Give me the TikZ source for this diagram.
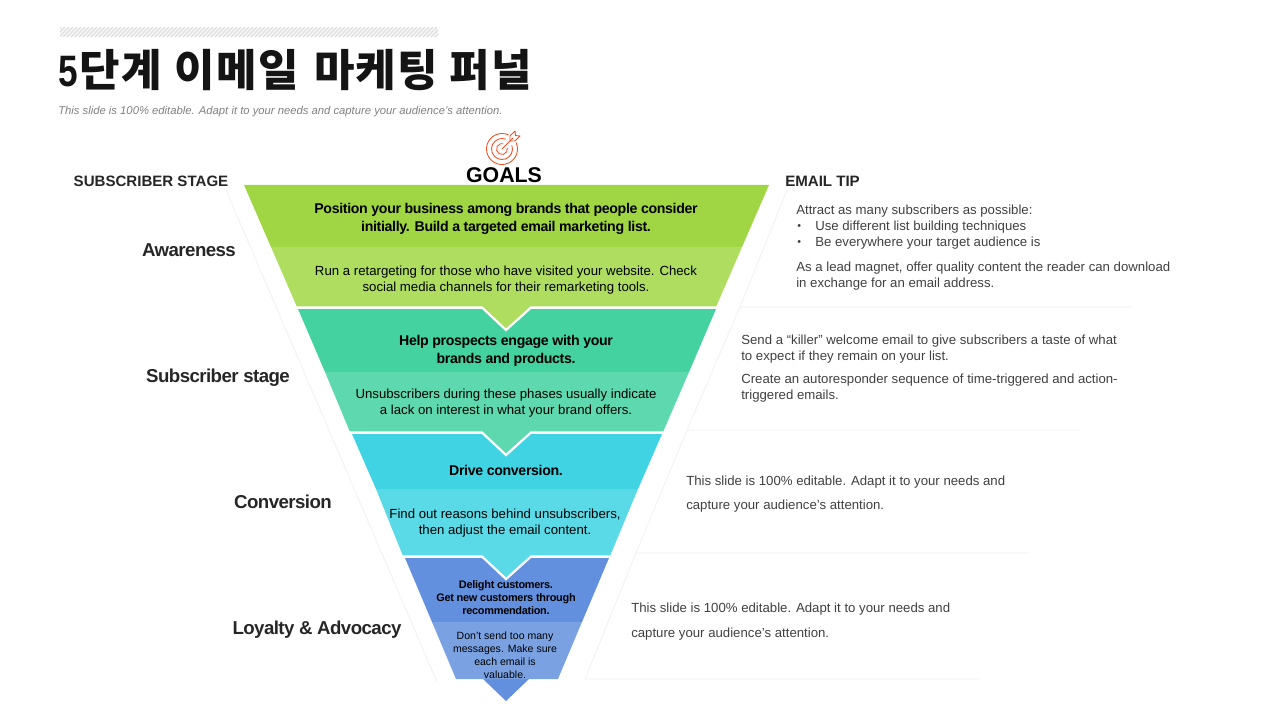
\documentclass[tikz,border=0pt]{standalone}
\usepackage{fontspec}
\setmainfont{Liberation Sans}
\newfontfamily\krfont{Noto Sans CJK KR}
\definecolor{greendark}{HTML}{A0D643}
\definecolor{greenlight}{HTML}{AEDD5F}
\definecolor{tealdark}{HTML}{44D2A0}
\definecolor{teallight}{HTML}{5ED8AE}
\definecolor{cyandark}{HTML}{3FD3E3}
\definecolor{cyanlight}{HTML}{5ADAE7}
\definecolor{bluedark}{HTML}{6390DE}
\definecolor{bluelight}{HTML}{7AA2E3}
\definecolor{targetred}{HTML}{F04E23}
\definecolor{guide}{HTML}{EFEFEF}
\tikzset{
    headbold/.style={align=center,inner sep=0pt,font=\fontsize{10.6}{13.5}\selectfont\bfseries\addfontfeatures{LetterSpace=-2.3},text=black},
    headtext/.style={align=center,inner sep=0pt,font=\fontsize{9.9}{12}\selectfont,text=black},
    smallbold/.style={align=center,inner sep=0pt,font=\fontsize{8.2}{9.8}\selectfont\bfseries\addfontfeatures{LetterSpace=-2.5},text=black},
    smalltext/.style={align=center,inner sep=0pt,font=\fontsize{7.9}{9.8}\selectfont,text=black},
    tipnote/.style={anchor=west,inner sep=0pt,font=\fontsize{9.9}{12}\selectfont,text=black!75},
    stagelabel/.style={inner sep=0pt,font=\fontsize{14}{16}\selectfont\bfseries\addfontfeatures{LetterSpace=-3},text=black!85},
    columnhead/.style={inner sep=0pt,font=\fontsize{11.3}{13}\selectfont\bfseries,text=black!85},
    whitecut/.style={draw=white,line width=1.7pt},
    guideline/.style={draw=guide,line width=0.5pt},
    targetline/.style={draw=targetred,line width=0.65pt}
}
\begin{document}
\begin{tikzpicture}[x=0.75pt,y=-0.75pt]
    \useasboundingbox (0,0) rectangle (1280,720);
    % hatched bar
    \begin{scope}
        \clip (60,28) rectangle (438,37);
        \foreach \i in {0,4,...,400} \draw[black!12,line width=1.2pt] (50+\i,38) -- (61+\i,27);
    \end{scope}
    \node[anchor=west,inner sep=0pt,font=\fontsize{33}{36}\krfont\bfseries\addfontfeatures{LetterSpace=3},text=black!92] (title) at (58,70) {{\fontspec{Liberation Sans Bold}\scalebox{.8}[1]{5}}\hspace{1.5pt}단계 \hspace{0.8pt}이메일 \hspace{3pt}마케팅 \hspace{0.3pt}퍼널};
    \node[anchor=west,inner sep=0pt,font=\fontsize{8.45}{10}\selectfont\itshape,text=black!50] (subtitle) at (58,111.5) {This slide is 100\%  editable.  Adapt it to your needs and capture your audience's attention.};
    % guide lines
    \draw[guideline] (226,190) -- (437,682);
    \draw[guideline] (787,190) -- (740,307) -- (1132,307);
    \draw[guideline] (740,307) -- (687,430) -- (1080,430);
    \draw[guideline] (687,430) -- (636,553) -- (1029,553);
    \draw[guideline] (636,553) -- (585,679) -- (979,679);
    % funnel
    \fill[greendark] (244,185) -- (769,185) -- (742,247) -- (271,247) -- cycle;
    \fill[tealdark] (298,309) -- (716,309) -- (689,372) -- (325,372) -- cycle;
    \fill[cyandark] (352,434) -- (662,434) -- (638,489) -- (376,489) -- cycle;
    \fill[bluedark] (405,558) -- (609,558) -- (582,622) -- (432,622) -- cycle;
    \fill[bluedark] (483,679) -- (529,679) -- (506,701) -- cycle;
    \fill[bluelight] (432,622) -- (582,622) -- (558,679) -- (456,679) -- cycle;
    \fill[cyanlight] (376,489) -- (638,489) -- (610,556) -- (531,556) -- (506,579) -- (482,556) -- (403,556) -- cycle;
    \draw[whitecut] (395,556.5) -- (482,556.5) -- (506,579) -- (531,556.5) -- (620,556.5);
    \fill[teallight] (325,372) -- (689,372) -- (663,432) -- (531,432) -- (506,455) -- (482,432) -- (350,432) -- cycle;
    \draw[whitecut] (340,432.5) -- (482,432.5) -- (506,455) -- (531,432.5) -- (670,432.5);
    \fill[greenlight] (271,247) -- (742,247) -- (716,307) -- (531,307) -- (506,330) -- (482,307) -- (297,307) -- cycle;
    \draw[whitecut] (290,307.5) -- (482,307.5) -- (506,330) -- (531,307.5) -- (725,307.5);
    % target icon
    \draw[targetline] (502,149) ++(-25:15.5) arc[start angle=-25,end angle=295,radius=15.5];
    \draw[targetline] (502,149) ++(-20:10.5) arc[start angle=-20,end angle=290,radius=10.5];
    \draw[targetline] (502,149) ++(-15:5.5) arc[start angle=-15,end angle=285,radius=5.5];
    \draw[targetline,line cap=round] (502,149) -- (513,138);
    \draw[targetline,line join=round] (510,141) -- (510,136) -- (515,131) -- (515.5,135.5) -- (520,136) -- (515,141) -- cycle;
    \node[inner sep=0pt,font=\fontsize{16}{17}\selectfont\bfseries] (goals) at (504,175) {GOALS};
    % column heads and stages
    \node[columnhead] (stagehead) at (151,181) {SUBSCRIBER STAGE};
    \node[columnhead,anchor=west] (tiphead) at (785,181) {EMAIL TIP};
    \node[stagelabel] (awareness) at (189,250) {Awareness};
    \node[stagelabel] (subscriber) at (218,378) {Subscriber stage};
    \node[stagelabel] (conversion) at (283,502) {Conversion};
    \node[stagelabel] (loyalty) at (317,630) {Loyalty \& Advocacy};
    % funnel texts
    \node[headbold] (goalone) at (506,219) {Position your business among brands that people consider\\initially. Build a targeted email marketing list.};
    \node[headtext] (textone) at (506,280) {Run a retargeting for those who have visited your website. Check\\social media channels for their remarketing tools.};
    \node[headbold] (goaltwo) at (506,351) {Help prospects engage with your\\brands and products.};
    \node[headtext] (texttwo) at (506,403.5) {Unsubscribers during these phases usually indicate\\a lack on interest in what your brand offers.};
    \node[headbold] (goalthree) at (506,470) {Drive conversion.};
    \node[headtext] (textthree) at (505,523.5) {Find out reasons behind unsubscribers,\\then adjust the email content.};
    \node[smallbold] (goalfour) at (506,598) {Delight customers.\\Get new customers through\\recommendation.};
    \node[smalltext] (textfour) at (505,655) {Don't send too many\\messages.  Make sure\\each email  is\\valuable.};
    % tips
    \node[tipnote] (tipa) at (796,211.5) {Attract  as many subscribers as possible:};
    \node[tipnote] (bulleta) at (797,227) {\footnotesize •};
    \node[tipnote] (tipb) at (815,227) {Use different list building techniques};
    \node[tipnote] (bulletb) at (797,243) {\footnotesize •};
    \node[tipnote] (tipc) at (815,243) {Be everywhere your target audience is};
    \node[tipnote] (tipd) at (796,268.5) {As a lead magnet, offer quality content the reader can download};
    \node[tipnote] (tipe) at (796,284.5) {in exchange for an email address.};
    \node[tipnote] (tipf) at (741,341.5) {Send a “killer” welcome email to give subscribers a taste of what};
    \node[tipnote] (tipg) at (741,357.5) {to expect if they remain on your list.};
    \node[tipnote] (tiph) at (741,380.5) {Create an autoresponder sequence of time-triggered and action-};
    \node[tipnote] (tipi) at (741,396.5) {triggered emails.};
    \node[tipnote] (tipj) at (686,482.5) {This slide is 100\% editable. Adapt it to your needs and};
    \node[tipnote] (tipk) at (686,506.5) {capture your audience's attention.};
    \node[tipnote] (tipl) at (631,609.5) {This slide is 100\% editable. Adapt it to your needs and};
    \node[tipnote] (tipm) at (631,634.5) {capture your audience's attention.};
\end{tikzpicture}
\end{document}
